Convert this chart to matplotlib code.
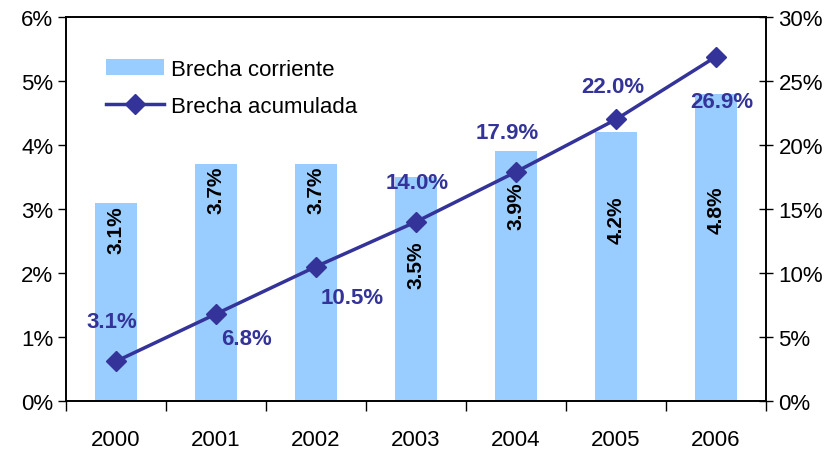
import numpy as np
import matplotlib.pyplot as plt
from matplotlib.ticker import FuncFormatter, FixedLocator

plt.rcParams['font.family'] = ['Liberation Sans', 'DejaVu Sans']

years = ['2000', '2001', '2002', '2003', '2004', '2005', '2006']
corriente = [3.1, 3.7, 3.7, 3.5, 3.9, 4.2, 4.8]
acumulada = [3.1, 6.8, 10.5, 14.0, 17.9, 22.0, 26.9]
# where the rotated bar labels sit (left axis units)
bar_lbl_y = [2.69, 3.31, 3.31, 2.14, 3.06, 2.84, 3.0]
# label offsets (points) for the line labels
line_lbl_off = [(-3, 29), (22, -18), (26, -22), (1, 28), (-6, 28), (-2, 24), (4, -32)]

bar_col = '#99CCFF'
line_col = '#333399'

fig = plt.figure(figsize=(8.31, 4.52), dpi=100)
ax = fig.add_axes([66/831, 1-402/452, 700/831, 384/452])
x = np.arange(len(years))

ax.bar(x, corriente, width=0.42, color=bar_col, label='Brecha corriente', zorder=1)
ax.set_ylim(0, 6)
ax.set_xlim(-0.5, len(years) - 0.5)
ax.yaxis.set_major_locator(FixedLocator(range(0, 7)))
ax.yaxis.set_major_formatter(FuncFormatter(lambda v, p: '%d%%' % v))
ax.set_xticks(x)
ax.set_xticklabels(years)
ax.set_xticks(np.arange(-0.5, len(years)), minor=True)
ax.tick_params(axis='x', which='major', length=0, pad=20, labelsize=16)
ax.tick_params(axis='x', which='minor', length=7, width=1, direction='out')
ax.tick_params(axis='y', labelsize=16, length=6, direction='out', width=1, pad=3)
for i, (v, yl) in enumerate(zip(corriente, bar_lbl_y)):
    ax.text(i, yl, '%.1f%%' % v, rotation=90, ha='center', va='center',
            fontsize=15, fontweight='bold', color='black', zorder=5)
for s in ax.spines.values():
    s.set_linewidth(1.2)

ax2 = ax.twinx()
ax2.plot(x, acumulada, color=line_col, lw=2.5, marker='D', ms=10,
         label='Brecha acumulada', zorder=3)
ax2.set_ylim(0, 30)
ax2.yaxis.set_major_locator(FixedLocator(range(0, 31, 5)))
ax2.yaxis.set_major_formatter(FuncFormatter(lambda v, p: '%d%%' % v))
ax2.tick_params(axis='y', labelsize=16, length=10, direction='inout', width=1, pad=4)
for s in ax2.spines.values():
    s.set_linewidth(1.2)
for i, (v, off) in enumerate(zip(acumulada, line_lbl_off)):
    ax2.annotate('%.1f%%' % v, (i, v), xytext=off, textcoords='offset points',
                 ha='center', va='center', fontsize=16, fontweight='bold',
                 color=line_col, zorder=6)

h1, l1 = ax.get_legend_handles_labels()
h2, l2 = ax2.get_legend_handles_labels()
ax2.legend(h1 + h2, l1 + l2, loc='upper left', bbox_to_anchor=(0.045, 0.915),
           frameon=False, fontsize=16, handlelength=2.6, handletextpad=0.3,
           labelspacing=0.75, borderaxespad=0)

fig.savefig('out.png', dpi=100)
